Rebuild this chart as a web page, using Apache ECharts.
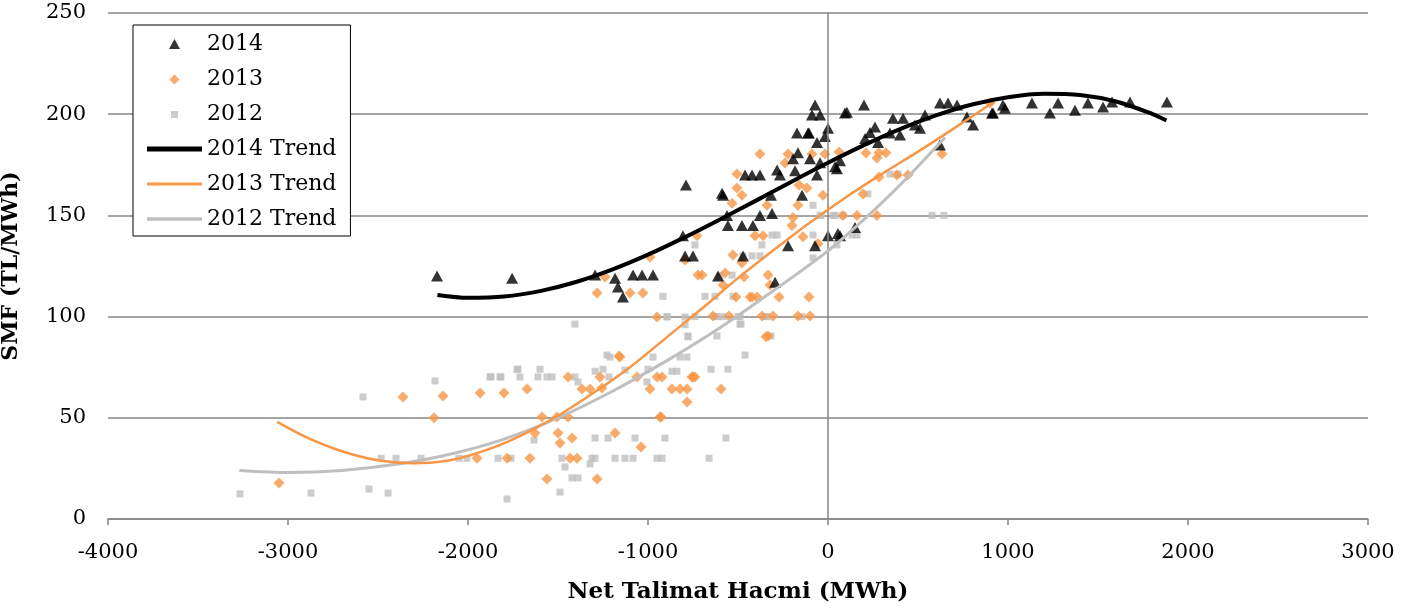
<!DOCTYPE html>
<html>
<head>
<meta charset="utf-8">
<script src="https://cdn.jsdelivr.net/npm/echarts@6/dist/echarts.min.js"></script>
<style>
html,body{margin:0;padding:0;background:#fff;}
#chart{width:1418px;height:612px;}
</style>
</head>
<body>
<div id="chart"></div>
<script>
// ---- data ----
const xTicks = [-4000, -3000, -2000, -1000, 0, 1000, 2000, 3000];
const yTicks = [0, 50, 100, 150, 200, 250];
const seriesNames = ['2014', '2013', '2012', '2014 Trend', '2013 Trend', '2012 Trend'];

const data2014 = [
[-2172,120],[-1755,119],[-1294,120.5],[-1183,119],[-1167,114.6],[-1139,109.7],[-1083,120.5],[-1033,120.5],[-972,120.5],
[-794,130],[-750,130],[-72,204.5],[-89,199.6],[-44,199.6],[-172,190.7],[-106,190.7],[0,193],[-61,186],[-17,189],
[-167,181],[-194,178],[-100,178],[-44,176],[-461,170],[-422,170],[-378,170],[-283,172.4],[-267,170],[-183,172],[-61,170],
[-789,165],[-583,160],[-317,160],[-144,160],[-561,150],[-378,150],[-311,151],[-556,145],[-478,145],[-417,145],[-806,140],
[-222,135],[-72,135],[0,140],[55,141],[-472,130],[-611,120],[-294,117],[105,201],[200,204.5],[361,198],[417,198],
[539,199.6],[622,205.5],[667,205.5],[717,204.5],[772,198.6],[806,194.7],[911,200.6],[972,204.5],[261,193.7],[233,191],
[483,194.7],[511,193],[344,190.7],[400,189.7],[-111,190.7],[206,188],[278,186],[67,177],[50,173],[622,184.8],[150,144],
[67,140],[917,200.6],[983,203],[1133,205.5],[1233,200.6],[1278,205.5],[1372,202],[1444,205.5],[1528,203.5],[1578,206],
[1678,206],[1883,206],[94,200.6],[39,174],[-589,161]
];

const data2013 = [
[-3050,17.8],[-2361,60.3],[-2189,50],[-2139,60.8],[-1933,62.2],[-1800,62.2],[-1950,30],[-1783,30],[-1672,64.2],[-1444,70.2],
[-1367,64.2],[-1322,64.2],[-1267,70.2],[-1256,64.7],[-1156,80],[-1061,70.2],[-989,64.2],[-950,70.2],[-922,70.2],[-867,64.2],
[-822,64.2],[-783,64.2],[-783,57.8],[-756,70.2],[-739,70.2],[-750,70.2],[-950,99.8],[-933,50.4],[-1283,111.7],[-1100,111.7],
[-1028,111.7],[-1239,119.6],[-722,120.5],[-1589,50.4],[-1628,42.5],[-1500,42.5],[-1489,37.5],[-1422,40],[-1506,50.4],
[-1444,50.4],[-1183,42.5],[-1039,35.6],[-1433,30],[-1394,30],[-1656,30],[-1561,19.8],[-1283,19.8],
[-378,180.3],[-222,180.3],[-89,180.3],[-17,180.3],[-239,175.9],[-506,170.5],[-506,163.5],[-478,160],[-533,156],[-161,165],
[-117,163.5],[-28,160],[-167,155],[-339,155],[-194,149],[-200,145],[-406,140],[-361,140],[-139,139.5],[-56,136],[-728,140],
[-794,128],[-528,130.4],[-478,126.5],[-572,121.5],[-700,120.5],[-467,119.6],[-333,120.5],[-322,115.6],[-272,109.7],
[-422,109.7],[-511,109.7],[-106,109.7],[-989,129.4],[-639,100.3],[-550,100.3],[-367,100.3],[-306,100.3],[-167,100.3],
[-100,100.3],[-344,90],[-594,64.2],[-928,50.4],[61,181.3],[211,180.8],[283,181],[322,181],[272,178.4],[283,169],[383,170],
[444,170],[633,180.3],[194,160.6],[161,150],[272,150],[83,150],[-583,115.6],[-433,109.7],[-394,109.7],[-333,90.4],
[-1161,80.5],[900,205.5]
];

const data2012 = [
[-3267,12.4],[-2872,12.8],[-2583,60.3],[-2550,14.8],[-2444,12.8],[-2183,68.2],[-2483,30],[-2400,30],[-2261,30],[-2050,30],
[-2006,30],[-1833,30],[-1761,30],[-1783,9.9],[-1872,70.2],[-1817,70.2],[-1722,74],
[-1406,96.3],[-917,110],[-894,99.8],[-794,99.8],[-778,90],[-1228,81],[-1211,80],[-1728,74],[-1600,74],[-1878,70.2],
[-1822,70.2],[-1711,70.2],[-1611,70.2],[-1561,70.2],[-1533,70.2],[-1406,70.2],[-1294,73],[-1250,74],[-1217,70.2],
[-1389,67.7],[-1128,73.6],[-972,80],[-1000,74],[-1006,67.7],[-867,73],[-839,73],[-822,80],[-783,80],[-1294,40],[-1222,40],
[-1072,40],[-906,40],[-1633,39],[-1478,30],[-1311,30],[-1294,30],[-1183,30],[-1128,30],[-1083,30],[-950,30],[-922,30],
[-1461,25.7],[-1322,27.2],[-1422,20.3],[-1389,20.3],[-1489,13.3],
[-739,135.4],[-367,135.4],[-311,140.3],[-283,140.3],[-83,155],[-44,150],[28,150],[-83,140.3],[-472,130],[-422,130],
[-378,130],[-533,120.5],[-600,120],[-83,129],[-683,110],[-628,110],[-528,110],[-617,100],[-583,100],[-489,100],[-339,100],
[-144,100],[-489,96.3],[-894,100],[-739,100],[-628,100],[-500,100],[-344,100],[-794,96],[-483,96.3],[-778,90.4],
[-617,90.4],[-317,90.4],[-461,81],[-650,74],[-556,74],[-567,40],[-661,30],
[-39,150],[39,150],[83,150],[222,160.6],[344,170.4],[389,170.4],[578,150],[644,150],[133,140.3],[161,140.3],[50,135.4]
];

// trend lines
const trend2014 = [
[-2170,110.7],[-2000,109.3],[-1800,109.9],[-1600,112.6],[-1400,117.1],[-1200,123.2],[-1000,130.6],[-800,139],[-600,148],
[-400,157.3],[-200,166.8],[0,176],[200,184.7],[400,192.6],[600,199.4],[800,204.8],[1000,208.4],[1200,210.1],[1400,209.5],
[1600,206.3],[1800,200.2],[1880,196.9]
];
const trend2013 = [
[-3060,48],[-2900,40.5],[-2700,33.5],[-2500,29],[-2300,27.5],[-2100,29],[-1900,34],[-1700,41.5],[-1500,51],[-1300,62.5],
[-1100,75],[-900,89.5],[-700,104],[-500,119],[-300,133],[-100,146.5],[100,159],[300,170.5],[500,181.5],[700,193],[920,206]
];
const trend2012 = [
[-3270,24],[-3000,23],[-2700,24],[-2400,27],[-2100,32],[-1800,39.5],[-1500,50],[-1200,63],[-900,78],[-600,94.5],
[-300,113],[0,132.5],[200,148],[400,165],[650,188.5]
];

const FONT = '"DejaVu Serif", serif';
// legend icons: bounding box 55x11 (invisible corner points), visible mark centered
const ICON_TRI = 'path://M0,0 L0,0 Z M55,11 L55,11 Z M27.5,0.5 L33,10.5 L22,10.5 Z';
const ICON_DIA = 'path://M0,0 L0,0 Z M55,11 L55,11 Z M27.5,1 L32.5,6 L27.5,11 L22.5,6 Z';
const ICON_SQ  = 'path://M0,0 L0,0 Z M55,11 L55,11 Z M24,2.5 L31,2.5 L31,9.5 L24,9.5 Z';
const ICON_L5  = 'path://M0,0 L0,0 Z M55,11 L55,11 Z M0,3 L55,3 L55,8 L0,8 Z';
const ICON_L3  = 'path://M0,0 L0,0 Z M55,11 L55,11 Z M0,4 L55,4 L55,7 L0,7 Z';
const ICON_L35 = 'path://M0,0 L0,0 Z M55,11 L55,11 Z M0,3.75 L55,3.75 L55,7.25 L0,7.25 Z';

const chart = echarts.init(document.getElementById('chart'), null, {renderer: 'canvas'});

chart.setOption({
  animation: false,
  backgroundColor: '#fff',
  grid: {left: 108, right: 50, top: 13, bottom: 93, containLabel: false, outerBoundsMode: 'none'},
  legend: {
    orient: 'vertical',
    left: 133, top: 25,
    padding: [8, 14, 6, 14],
    itemWidth: 55, itemHeight: 11, itemGap: 13,
    borderColor: '#000', borderWidth: 1, backgroundColor: '#fff',
    textStyle: {fontFamily: FONT, fontSize: 22, lineHeight: 22, color: '#000'},
    data: [
      {name: seriesNames[0], icon: ICON_TRI},
      {name: seriesNames[1], icon: ICON_DIA},
      {name: seriesNames[2], icon: ICON_SQ},
      {name: seriesNames[3], icon: ICON_L5},
      {name: seriesNames[4], icon: ICON_L3},
      {name: seriesNames[5], icon: ICON_L35}
    ]
  },
  xAxis: {
    type: 'value', min: xTicks[0], max: xTicks[xTicks.length - 1], interval: 1000,
    name: 'Net Talimat Hacmi (MWh)', nameLocation: 'middle', nameGap: 62,
    nameTextStyle: {fontFamily: FONT, fontSize: 23, fontWeight: 'bold', color: '#000'},
    axisLine: {onZero: false, lineStyle: {color: '#868686', width: 1.5}},
    axisTick: {show: true, inside: false, length: 6, lineStyle: {color: '#868686', width: 1.5}},
    axisLabel: {fontFamily: FONT, fontSize: 21, color: '#000', margin: 23, formatter: v => String(v)},
    splitLine: {show: false}
  },
  yAxis: {
    type: 'value', min: yTicks[0], max: yTicks[yTicks.length - 1], interval: 50,
    name: 'SMF (TL/MWh)', nameLocation: 'middle', nameGap: 86, nameRotate: 90,
    nameTextStyle: {fontFamily: FONT, fontSize: 22, fontWeight: 'bold', color: '#000'},
    axisLine: {show: false},
    axisTick: {show: false},
    axisLabel: {fontFamily: FONT, fontSize: 21, color: '#000', margin: 22, formatter: v => String(v)},
    splitLine: {show: true, lineStyle: {color: '#868686', width: 1.5}}
  },
  series: [
    {
      name: seriesNames[0], type: 'scatter', data: data2014, symbol: 'triangle', symbolSize: [12, 11],
      itemStyle: {color: '#000'}, z: 4
    },
    {
      name: seriesNames[1], type: 'scatter', data: data2013, symbol: 'diamond', symbolSize: 11,
      itemStyle: {color: '#F79646'}, z: 3
    },
    {
      name: seriesNames[2], type: 'scatter', data: data2012, symbol: 'rect', symbolSize: 7,
      itemStyle: {color: '#BFBFBF'}, z: 2,
      markLine: {
        silent: true, symbol: 'none', animation: false,
        label: {show: false},
        lineStyle: {color: '#868686', width: 1.5, type: 'solid'},
        data: [{xAxis: 0}]
      }
    },
    {
      name: seriesNames[3], type: 'line', data: trend2014, smooth: 0.3, showSymbol: false, symbol: 'none',
      lineStyle: {color: '#000', width: 4}, itemStyle: {color: '#000'}, z: 7
    },
    {
      name: seriesNames[4], type: 'line', data: trend2013, smooth: 0.3, showSymbol: false, symbol: 'none',
      lineStyle: {color: '#F79646', width: 2.5}, itemStyle: {color: '#F79646'}, z: 6
    },
    {
      name: seriesNames[5], type: 'line', data: trend2012, smooth: 0.3, showSymbol: false, symbol: 'none',
      lineStyle: {color: '#BFBFBF', width: 3}, itemStyle: {color: '#BFBFBF'}, z: 5
    }
  ]
});
</script>
</body>
</html>
